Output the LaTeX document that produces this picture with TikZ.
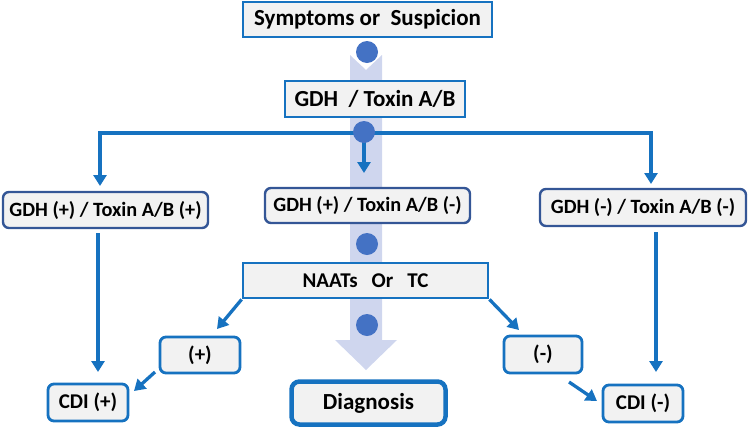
\documentclass[tikz,border=0pt]{standalone}
\usepackage{fontspec}
\setmainfont{Carlito}
\usetikzlibrary{arrows.meta}
\definecolor{boxblue}{RGB}{22,114,192}
\definecolor{rboxblue}{RGB}{52,86,150}
\definecolor{boxfill}{RGB}{242,242,242}
\definecolor{dotblue}{RGB}{68,114,196}
\definecolor{shaft}{RGB}{207,214,238}
\begin{document}
\begin{tikzpicture}[x=1pt,y=-1pt,
  sqbox/.style={draw=boxblue,fill=boxfill,line width=2.8pt,inner sep=0pt,font=\bfseries\fontsize{23}{25}\selectfont},
  rbox/.style={draw=rboxblue,fill=boxfill,line width=2.4pt,rounded corners=6pt,inner sep=0pt,font=\bfseries\fontsize{20.3}{22}\selectfont},
  cbox/.style={draw=boxblue,fill=boxfill,line width=2.8pt,rounded corners=6pt,inner sep=0pt,font=\bfseries\fontsize{21}{23}\selectfont},
  arr/.style={draw=boxblue,line width=3.3pt,-{Triangle[width=13pt,length=11pt]}},
  dot/.style={circle,fill=dotblue,minimum size=22pt,inner sep=0pt}]
\useasboundingbox (0,0) rectangle (750,429);
% big background arrow
\fill[shaft] (350,55) -- (366,70) -- (382,55) -- (382,340) -- (397,340) -- (366,370) -- (335,340) -- (350,340) -- cycle;
% nodes
\node[sqbox,minimum width=249pt,minimum height=35pt] (sym) at (367.5,19.5) {Symptoms or\ \ Suspicion};
\node[sqbox,minimum width=180pt,minimum height=36pt] (gdh) at (375,99) {GDH\ \ / Toxin A/B};
\node[rbox,minimum width=205pt,minimum height=36pt] (L) at (105.5,210) {GDH (+) / Toxin A/B (+)};
\node[rbox,minimum width=205pt,minimum height=35pt] (M) at (367.5,205.5) {GDH (+) / Toxin A/B (-)};
\node[rbox,minimum width=206pt,minimum height=37pt] (R) at (643,207.5) {GDH (-) / Toxin A/B (-)};
\node[sqbox,font=\bfseries\fontsize{21}{23}\selectfont,minimum width=245pt,minimum height=35pt] (na) at (365.5,280.5) {NAATs\hspace{14pt}Or\hspace{14pt}TC};
\node[cbox,minimum width=80pt,minimum height=36pt] (pos) at (200,355) {(+)};
\node[cbox,minimum width=78pt,minimum height=37pt] (neg) at (543,354.5) {(-)};
\node[cbox,minimum width=80pt,minimum height=37pt] (cp) at (88,402.5) {CDI (+)};
\node[cbox,minimum width=80pt,minimum height=37pt] (cn) at (643,403.5) {CDI (-)};
\node[draw=boxblue,fill=boxfill,line width=4.5pt,rounded corners=8pt,inner sep=0pt,minimum width=154pt,minimum height=43pt,font=\bfseries\fontsize{23}{25}\selectfont] (dx) at (368.5,403) {Diagnosis};
% connector coordinates
\coordinate (split) at (364,133);
\coordinate (lt) at (100,186);
\coordinate (mt) at (364,173);
\coordinate (rt) at (651,184);
\coordinate (ls) at (98,233);
\coordinate (le) at (98,372);
\coordinate (rs) at (656,232);
\coordinate (re) at (656,372);
\coordinate (pe) at (217,329);
\coordinate (ne) at (519,330);
\coordinate (ps) at (155,372);
\coordinate (pce) at (134,391);
\coordinate (ns) at (569,382);
\coordinate (nce) at (597,401);
% connectors
\draw[arr] (split) -| (lt);
\draw[arr] (split) -| (rt);
\draw[arr] (split) -- (mt);
\draw[arr] (ls) -- (le);
\draw[arr] (rs) -- (re);
\draw[arr] (na.south west) -- (pe);
\draw[arr] (na.south east) -- (ne);
\draw[arr] (ps) -- (pce);
\draw[arr] (ns) -- (nce);
% dots
\node[dot] (d1) at (367,52) {};
\node[dot] (d2) at (364,132) {};
\node[dot] (d3) at (367,244) {};
\node[dot] (d4) at (367,325) {};
\end{tikzpicture}
\end{document}
